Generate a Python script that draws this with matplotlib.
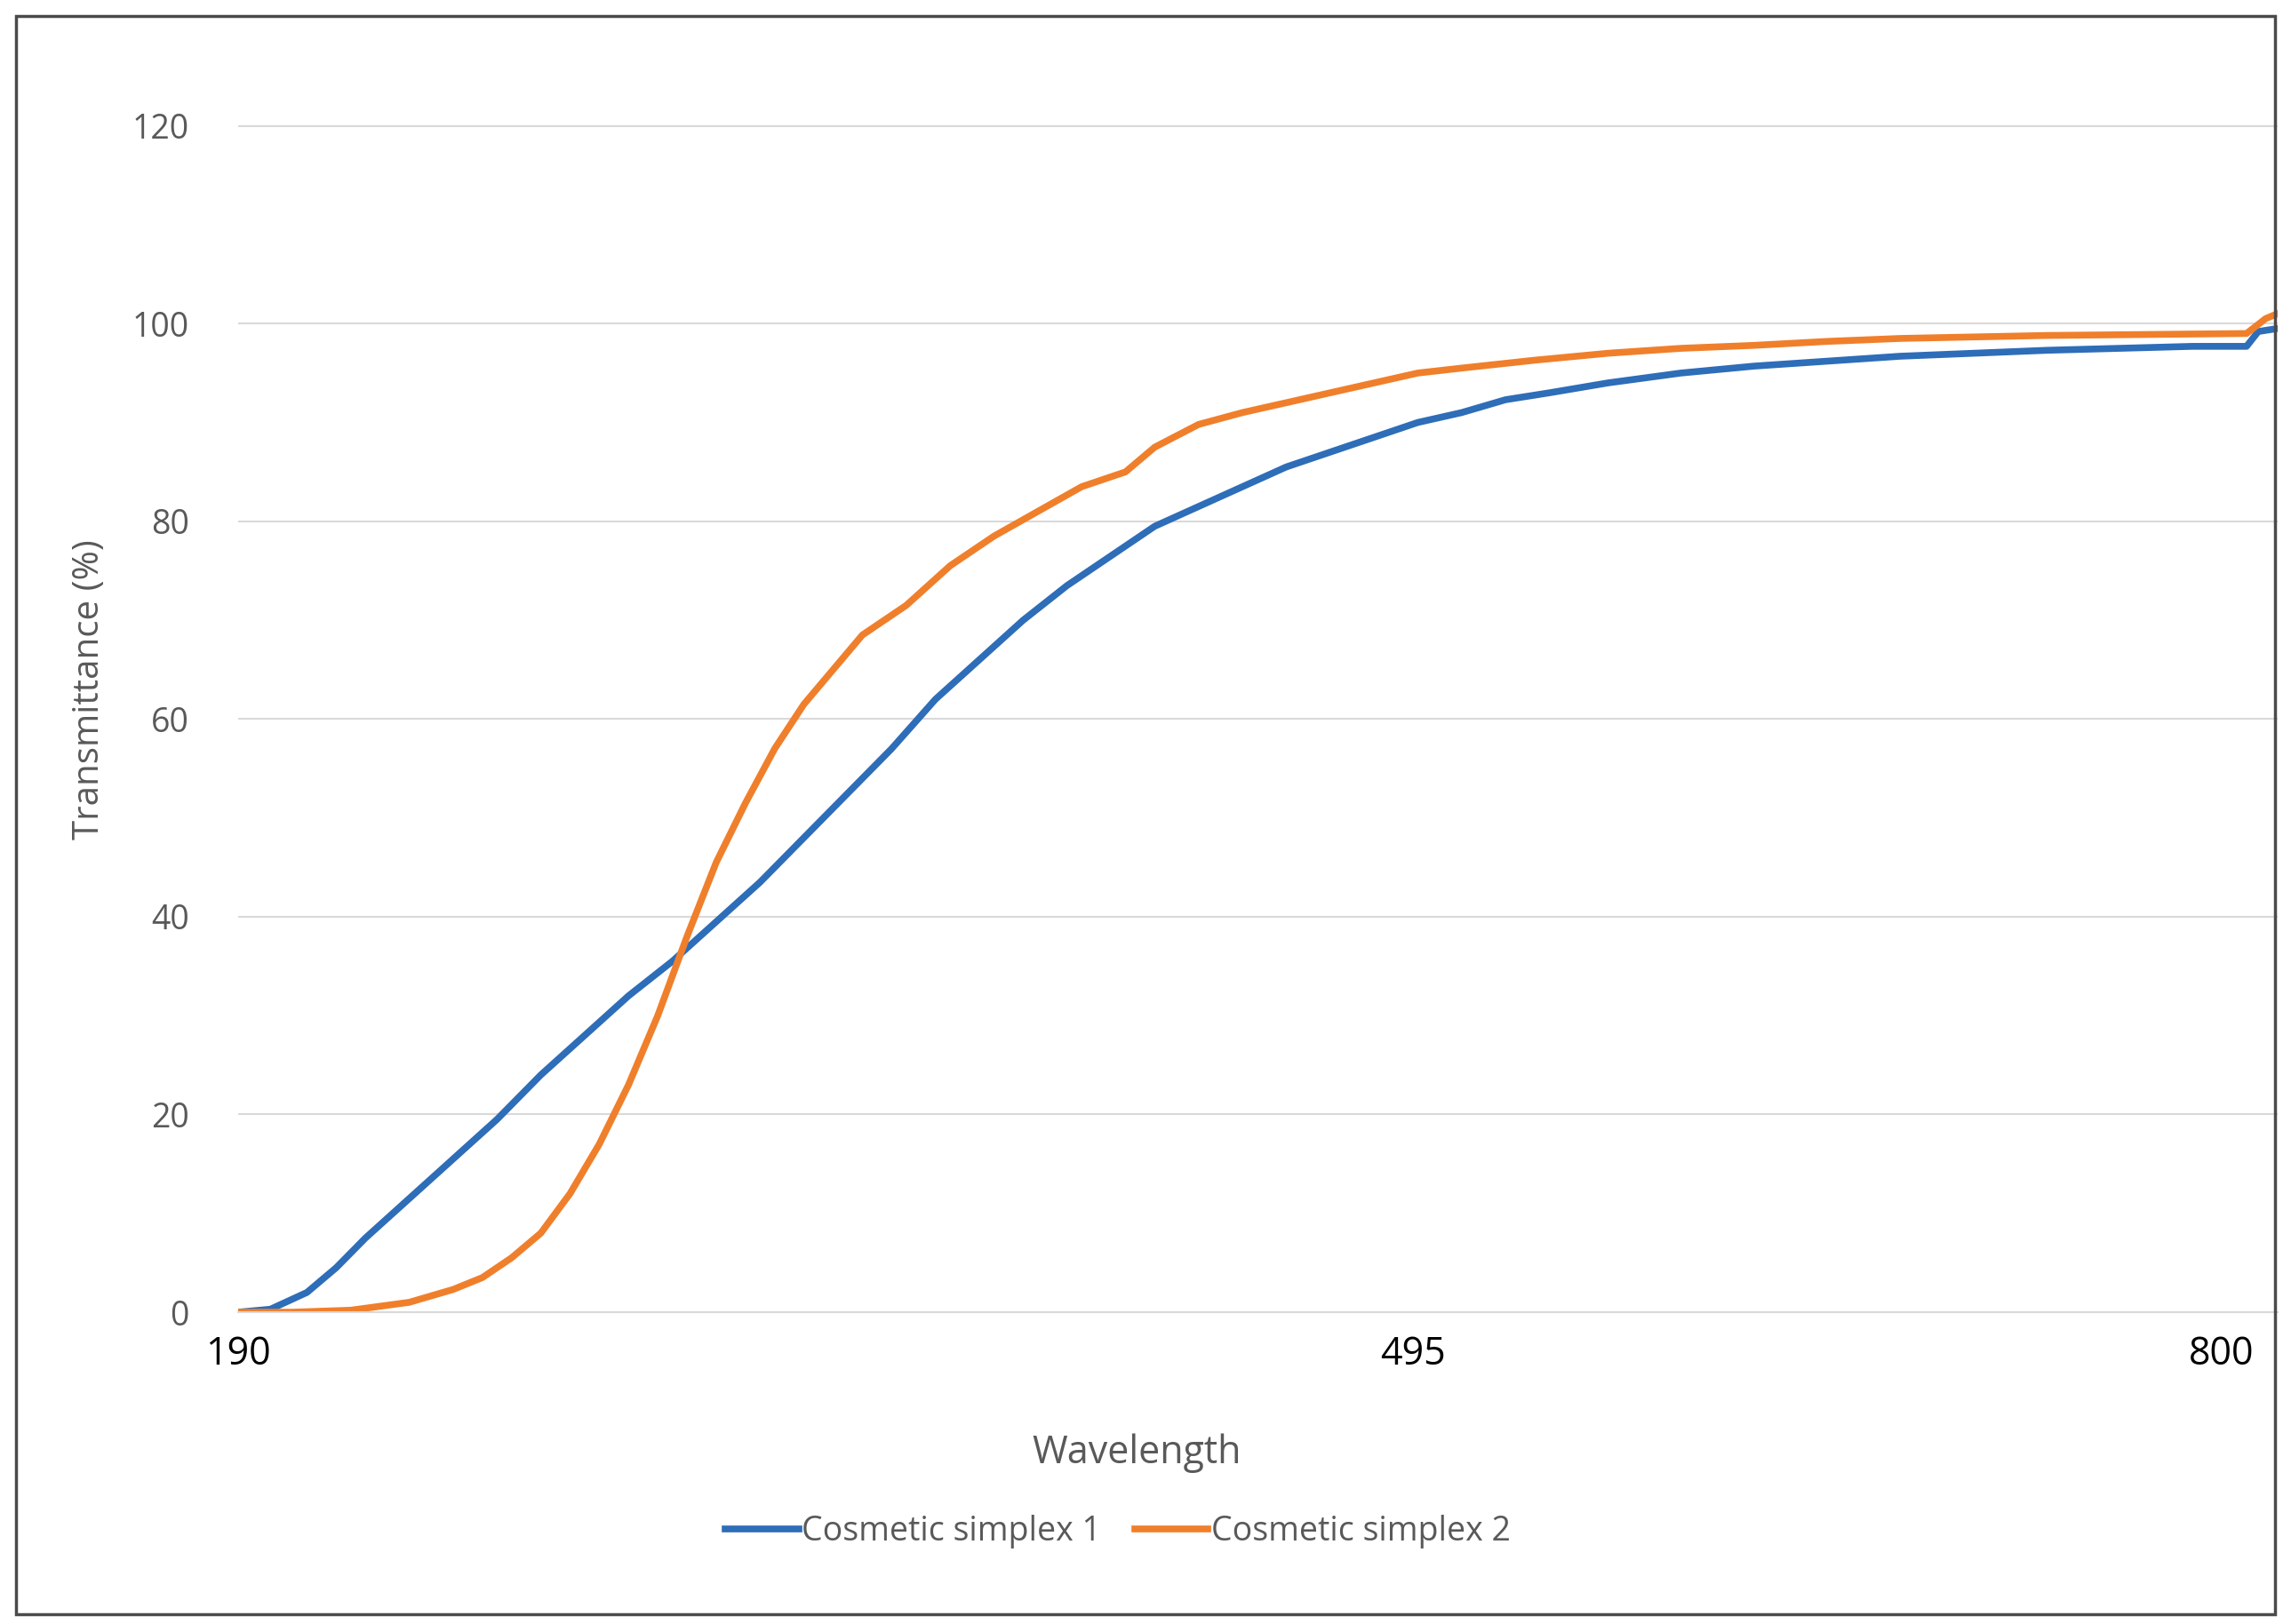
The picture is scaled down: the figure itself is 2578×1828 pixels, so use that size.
import matplotlib.pyplot as plt
from matplotlib.patches import Rectangle

plt.rcParams["font.family"] = ["Open Sans", "DejaVu Sans"]

# category-axis positions (Excel category axis, uneven wavelength spacing)
tick_pos = [0, 804, 1357]
tick_labels = ["190", "495", "800"]

blue_x = [0, 22, 47, 67, 87, 117, 147, 177, 207, 237, 267, 297, 327, 357, 387, 417, 447, 477, 507,
          537, 567, 597, 627, 657, 687, 717, 747, 777, 807, 837, 867, 897, 937, 987, 1037, 1087,
          1137, 1187, 1237, 1287, 1337, 1374, 1382, 1395]
blue_y = [0, 0.3, 2, 4.5, 7.5, 11.5, 15.5, 19.5, 24, 28, 32, 35.5, 39.5, 43.5, 48, 52.5, 57, 62, 66,
          70, 73.5, 76.5, 79.5, 81.5, 83.5, 85.5, 87, 88.5, 90, 91, 92.3, 93, 94, 95, 95.7, 96.2,
          96.7, 97, 97.3, 97.5, 97.7, 97.7, 99.2, 99.5]

orange_x = [0, 37, 77, 117, 147, 167, 187, 207, 227, 247, 267, 287, 307, 327, 347, 367, 387, 407,
            427, 457, 487, 517, 547, 577, 607, 627, 657, 687, 717, 747, 777, 807, 837, 887, 937,
            987, 1037, 1087, 1137, 1237, 1374, 1387, 1395]
orange_y = [0, 0, 0.2, 1, 2.3, 3.5, 5.5, 8, 12, 17, 23, 30, 38, 45.5, 51.5, 57, 61.5, 65, 68.5,
            71.5, 75.5, 78.5, 81, 83.5, 85, 87.5, 89.8, 91, 92, 93, 94, 95, 95.5, 96.3, 97, 97.5,
            97.8, 98.2, 98.5, 98.8, 99, 100.5, 101]

grey = "#595959"
fig = plt.figure(figsize=(25.78, 18.28), dpi=100)
ax = fig.add_axes([0.104, 0.192, 0.89, 0.767])
ax.plot(blue_x, blue_y, color="#2E6DB8", lw=5.5, label="Cosmetic simplex 1")
ax.plot(orange_x, orange_y, color="#F07F2B", lw=5.5, label="Cosmetic simplex 2")

ax.set_xlim(0, 1395)
ax.set_ylim(0, 126)
ax.set_yticks(range(0, 121, 20))
ax.set_xticks(tick_pos)
ax.set_xticklabels(tick_labels)
ax.grid(axis="y", color="#d9d9d9", lw=1.5)
ax.set_axisbelow(True)
for s in ["top", "right", "left"]:
    ax.spines[s].set_visible(False)
ax.spines["bottom"].set_color("#d9d9d9")
ax.spines["bottom"].set_linewidth(1.5)
ax.tick_params(axis="y", length=0, labelsize=27, labelcolor=grey, pad=40)
ax.tick_params(axis="x", length=0, labelsize=31, labelcolor="black", pad=18)
ax.set_ylabel("Transmittance (%)", fontsize=29, color=grey, labelpad=20)
fig.text(0.496, 0.105, "Wavelength", fontsize=31, color=grey, ha="center", va="center")
fig.legend(*ax.get_legend_handles_labels(), loc="center", bbox_to_anchor=(0.488, 0.057), ncol=2,
           frameon=False, fontsize=27, labelcolor=grey, handlelength=2.2, columnspacing=1.0,
           handletextpad=0.1)

fig.patches.append(Rectangle((0.007, 0.006), 0.986, 0.984, transform=fig.transFigure,
                             fill=False, edgecolor="#4a4a4a", lw=2.5))
fig.savefig("out.png", dpi=100)
